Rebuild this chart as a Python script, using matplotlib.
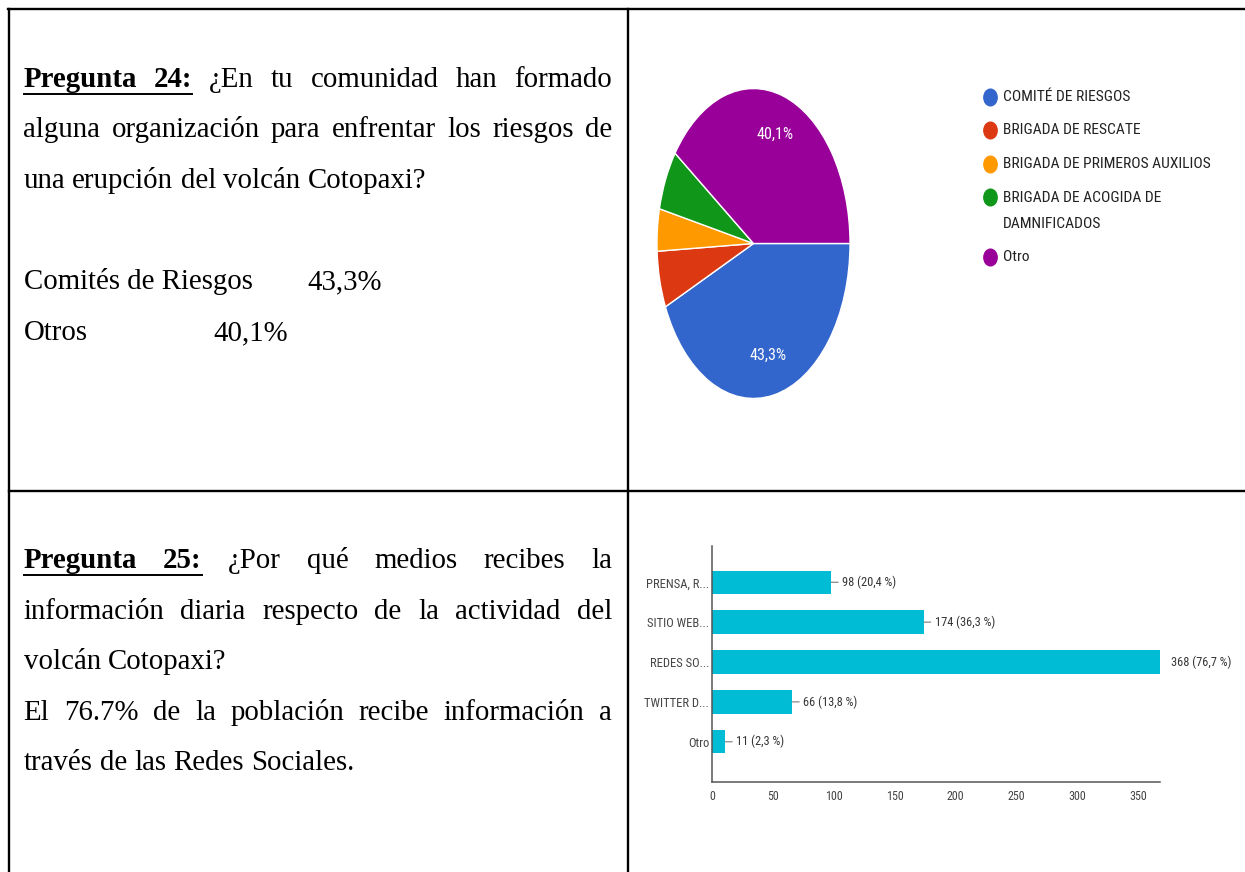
import os
import matplotlib
matplotlib.use("Agg")
import matplotlib.pyplot as plt
import matplotlib.font_manager as fm
from matplotlib.lines import Line2D
from matplotlib.path import Path
from matplotlib.transforms import Affine2D

# ---------------- data ----------------
pie_labels = ["COMITÉ DE RIESGOS", "BRIGADA DE RESCATE", "BRIGADA DE PRIMEROS AUXILIOS",
              "BRIGADA DE ACOGIDA DE\nDAMNIFICADOS", "Otro"]
pie_values = [43.3, 5.9, 4.4, 6.3, 40.1]
pie_colors = ["#3366CC", "#DC3912", "#FF9900", "#109618", "#990099"]

bar_cats = ["PRENSA, R...", "SITIO WEB...", "REDES SO...", "TWITTER D...", "Otro"]
bar_counts = [98, 174, 368, 66, 11]
bar_pcts = [20.4, 36.3, 76.7, 13.8, 2.3]
bar_ticks = [0, 50, 100, 150, 200, 250, 300, 350]

# ---------------- figure ----------------
W, H = 1245, 872
fig = plt.figure(figsize=(W / 100, H / 100), dpi=100)
fig.patch.set_facecolor("white")
renderer = fig.canvas.get_renderer()

def fx(x):
    return x / W

def fy(y):
    return 1 - y / H

# ---- find a condensed sans font if one is installed ----
def find_narrow():
    files = [f.fname for f in fm.fontManager.ttflist]
    prefs = ["liberationsansnarrow-regular", "robotocondensed-regular", "roboto_condensed-regular",
             "roboto-condensed.", "dejavusanscondensed.", "opensans_condensed-regular",
             "opensanscondensed-regular", "opensans-condensedregular", "notosans-condensed.",
             "notosans-condensedregular", "lato-condensed"]
    for p in prefs:
        for f in files:
            if p in os.path.basename(f).lower():
                return fm.FontProperties(fname=f)
    bad = ["bold", "italic", "oblique", "light", "thin", "medium", "black", "semi", "extra", "mono"]
    for f in files:
        b = os.path.basename(f).lower()
        if ("condensed" in b or "narrow" in b) and not any(k in b for k in bad):
            return fm.FontProperties(fname=f)
    return fm.FontProperties(family=["Liberation Sans", "DejaVu Sans"])

NARROW = find_narrow()

def fitted(text, target_px, max_pt):
    p = NARROW.copy()
    p.set_size(10)
    t = fig.text(0, 0, text, fontproperties=p)
    w = t.get_window_extent(renderer).width
    t.remove()
    q = NARROW.copy()
    q.set_size(min(max_pt, 10 * target_px / w))
    return q

SERIF = ["Liberation Serif", "DejaVu Serif"]
FS = 20.8
X0, X1 = 23.5, 612

def put_line(segments, y, justify=True, x0=X0, x1=X1):
    texts = []
    for w, wt in segments:
        t = fig.text(fx(x0), fy(y), w, fontsize=FS, family=SERIF, weight=wt,
                     va="baseline", ha="left", color="black")
        texts.append(t)
    widths = [t.get_window_extent(renderer).width for t in texts]
    if justify and len(texts) > 1:
        gap = (x1 - x0 - sum(widths)) / (len(texts) - 1)
    else:
        gap = FS * 100 / 72 * 0.25
    x = x0
    spans = []
    for t, wd in zip(texts, widths):
        t.set_x(fx(x))
        spans.append((x, x + wd))
        x += wd + gap
    return spans

def plain(s):
    return [(w, "normal") for w in s.split()]

def heading_line(num, rest, y):
    segs = [("Pregunta", "bold"), (num, "bold")] + plain(rest)
    spans = put_line(segs, y)
    ul_y = y + 7
    fig.add_artist(Line2D([fx(spans[0][0]), fx(spans[1][1])], [fy(ul_y), fy(ul_y)],
                          transform=fig.transFigure, color="black", lw=1.4))

# ---- table lines ----
LW = 1.7
for xs, ys in [((8, W), (9, 9)), ((8.7, 8.7), (9, H)), ((628, 628), (9, H)), ((8.7, W), (491, 491))]:
    fig.add_artist(Line2D([fx(v) for v in xs], [fy(v) for v in ys],
                          transform=fig.transFigure, color="black", lw=LW,
                          solid_capstyle="projecting"))

# ---- left text, row 1 ----
heading_line("24:", "¿En tu comunidad han formado", 87)
put_line(plain("alguna organización para enfrentar los riesgos de"), 137)
put_line(plain("una erupción del volcán Cotopaxi?"), 188, justify=False)
fig.text(fx(X0), fy(289), "Comités de Riesgos", fontsize=FS, family=SERIF, va="baseline")
fig.text(fx(307), fy(289), "43,3%", fontsize=FS, family=SERIF, va="baseline")
fig.text(fx(X0), fy(340), "Otros", fontsize=FS, family=SERIF, va="baseline")
fig.text(fx(213), fy(340), "40,1%", fontsize=FS, family=SERIF, va="baseline")

# ---- left text, row 2 ----
heading_line("25:", "¿Por qué medios recibes la", 568)
put_line(plain("información diaria respecto de la actividad del"), 619)
put_line(plain("volcán Cotopaxi?"), 669, justify=False)
put_line(plain("El 76.7% de la población recibe información a"), 720)
put_line(plain("través de las Redes Sociales."), 770, justify=False)

# ---------------- pie chart ----------------
pie_font = fitted("40,1%", 36.7, 12)
axp = fig.add_axes([fx(656), fy(400), 195 / W, 313 / H])
wedges, texts, autotexts = axp.pie(
    pie_values, colors=pie_colors, startangle=0, counterclock=False,
    autopct=lambda p: (f"{p:.1f}%".replace(".", ",") if p > 20 else ""),
    pctdistance=0.74,
    wedgeprops=dict(edgecolor="white", linewidth=1.0),
    textprops=dict(color="white", fontproperties=pie_font))
axp.set_aspect("auto")
axp.set_xlim(-1.01, 1.01)
axp.set_ylim(-1.01, 1.01)
axp.axis("off")

# legend (manual, Google-forms style)
leg_font = fitted("BRIGADA DE PRIMEROS AUXILIOS", 208, 13)
ell = Path.unit_circle().transformed(Affine2D().scale(0.8, 1.0))
y = 97
for lab, col in zip(pie_labels, pie_colors):
    fig.add_artist(Line2D([fx(990)], [fy(y)], marker=ell, markersize=12, color=col,
                          linestyle="none", transform=fig.transFigure))
    lines = lab.split("\n")
    for k, ln in enumerate(lines):
        fig.text(fx(1003), fy(y + 26 * k), ln, fontproperties=leg_font,
                 color="#222222", va="center", ha="left")
    y += 26 * (len(lines) - 1) + 33.5

# ---------------- bar chart ----------------
ytick_font = fitted("PRENSA, R...", 63, 10)
xtick_font = fitted("350", 17.6, 10)
val_font = fitted("98 (20,4 %)", 54, 10)

axb = fig.add_axes([fx(712), fy(782), (1160 - 712) / W, (782 - 546) / H])
pos = list(range(len(bar_cats)))
axb.barh(pos, bar_counts, height=0.585, color="#00BCD4")
axb.set_xlim(0, 368)
axb.set_ylim(5.01, -0.91)
for s in ["top", "right"]:
    axb.spines[s].set_visible(False)
for s in ["left", "bottom"]:
    axb.spines[s].set_color("#555555")
    axb.spines[s].set_linewidth(1.1)
axb.set_xticks(bar_ticks)
axb.set_xticklabels([str(t) for t in bar_ticks], fontproperties=xtick_font, color="#444444")
axb.set_yticks(pos)
axb.set_yticklabels(bar_cats, fontproperties=ytick_font, color="#444444")
axb.tick_params(axis="x", length=0, pad=6)
axb.tick_params(axis="y", length=0, pad=2)
axb.set_facecolor("none")

vmax = max(bar_counts)
for i, (c, p) in enumerate(zip(bar_counts, bar_pcts)):
    lab = f"{c} ({p:.1f} %)".replace(".", ",")
    if c == vmax:
        axb.annotate(lab, xy=(c, i), xytext=(11, 0), textcoords="offset pixels",
                     va="center", ha="left", fontproperties=val_font,
                     color="#333333", annotation_clip=False)
    else:
        axb.annotate(lab, xy=(c, i), xytext=(11, 0), textcoords="offset pixels",
                     va="center", ha="left", fontproperties=val_font,
                     color="#333333", annotation_clip=False,
                     arrowprops=dict(arrowstyle="-", color="#888888", lw=0.9,
                                     shrinkA=1, shrinkB=0))

fig.savefig("out.png", dpi=100, facecolor="white")
